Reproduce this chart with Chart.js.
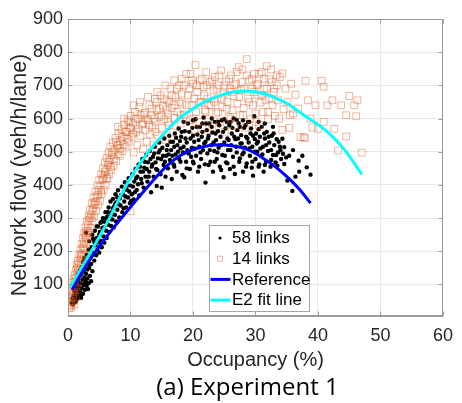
<!DOCTYPE html>
<html lang="en">
<head>
<meta charset="UTF-8">
<title>(a) Experiment 1</title>
<style>
  html, body { margin: 0; padding: 0; background: #fff; }
  #wrap { width: 462px; height: 403px; }
</style>
<script src="https://cdn.jsdelivr.net/npm/chart.js"></script>
</head>
<body>
<div id="wrap"><canvas id="chart" width="462" height="403"></canvas></div>
<script>
// axis ticks
const xTicks = [0, 10, 20, 30, 40, 50, 60];
const yTicks = [100, 200, 300, 400, 500, 600, 700, 800, 900];

// 58 links: [occupancy %, flow veh/h/lane]
const links58 = [
  [0.6,45],[0.7,58],[0.8,40],[0.9,66],[1.0,52],[1.0,80],[1.1,61],[1.2,92],[1.2,48],[1.3,73],
  [1.4,101],[1.5,57],[1.5,86],[1.6,112],[1.7,68],[1.7,95],[1.8,124],[1.9,79],[1.9,142],[2.0,104],
  [2.1,60],[2.1,131],[2.2,88],[2.2,152],[2.3,115],[2.4,72],[2.4,168],[2.5,98],[2.5,139],[2.6,121],
  [2.6,180],[2.7,84],[2.8,110],[2.8,158],[2.9,132],[2.9,256],[3.0,96],[3.0,190],[3.1,145],[3.1,118],
  [3.2,172],[3.3,104],[3.3,205],[3.4,150],[3.5,126],[3.6,185],[3.7,162],[3.8,212],[3.9,140],[4.0,238],
  [0.9,88],[1.3,52],[1.6,130],[2.0,70],[2.3,140],[2.6,102],[2.9,170],[3.2,86],[3.5,160],[3.7,110],
  [4.1,195],[4.2,172],[4.3,262],[4.4,218],[4.5,188],[4.6,240],[4.7,205],[4.8,275],[4.9,228],[5.0,196],
  [5.1,258],[5.2,286],[5.3,232],[5.4,212],[5.5,270],[5.6,300],[5.7,245],[5.8,226],[5.9,288],[6.0,318],
  [6.1,262],[6.2,240],[6.3,305],[6.4,280],[6.5,332],[6.6,258],[6.7,298],[6.8,350],[6.9,276],[7.0,318],
  [7.1,296],[7.2,358],[7.3,272],[7.4,336],[7.5,310],[7.6,372],[7.7,290],[7.8,348],[7.9,325],[8.0,384],
  [3.4,230],[3.9,250],[4.2,228],[4.6,275],[5.0,250],[5.4,290],[5.7,272],[6.1,300],[6.4,318],[6.9,310],
  [7.2,330],[7.6,345],[7.9,362],
  [8.2,302],[8.3,360],[8.4,338],[8.6,395],[8.7,318],[8.8,372],[9.0,350],[9.1,408],[9.3,332],[9.4,385],
  [9.6,362],[9.7,420],[9.9,345],[10.0,398],
  [8.1,342],[8.5,370],[8.9,330],[9.2,365],[9.5,398],[9.8,380],[10.1,352],[10.4,395],[10.7,378],[10.9,420],
  [11.2,402],[11.5,455],[11.7,418],[12.0,440],[12.3,470],[12.6,448],[12.9,425],[13.2,478],[13.5,462],[13.8,495],
  [14.1,448],[14.4,480],[14.7,505],[15.2,488],[15.5,470],[15.8,505],[16.1,492],
  [10.2,372],[10.3,432],[10.5,356],[10.6,410],[10.8,448],[11.0,385],[11.1,425],[11.3,462],[11.4,368],[11.6,440],
  [11.8,405],[11.9,478],[12.1,392],[12.2,452],[12.4,425],[12.5,490],[12.7,410],[12.8,468],[13.0,440],[13.1,502],
  [13.3,378],[13.4,455],[13.6,485],[13.7,425],[13.9,515],[14.0,468],[14.2,397],[14.3,445],[14.5,498],[14.6,528],
  [14.8,432],[14.9,478],[15.0,392],[15.1,512],[15.3,460],[15.4,540],[15.6,425],[15.7,488],[15.9,520],[16.0,450],
  [16.2,548],[16.3,475],[16.5,505],[16.6,418],[16.8,530],[16.9,462],[17.1,555],[17.2,492],[17.4,440],[17.5,520],
  [17.7,570],[17.8,478],[18.0,510],[18.1,545],[18.3,430],[18.4,498],[18.6,423],[18.7,562],[18.9,470],[19.0,528],
  [19.2,585],[19.3,495],[19.5,448],[19.6,540],[19.8,512],[19.9,572],[20.1,465],[20.2,530],[20.4,598],[20.5,488],
  [20.7,552],[20.8,440],[21.0,515],[21.1,575],[21.3,478],[21.4,545],[21.6,505],[21.7,603],[21.9,462],[22.0,530],
  [22.0,407],[22.2,565],
  [16.4,530],[16.7,488],[17.0,515],[17.3,542],[17.6,500],[17.9,532],[18.2,560],[18.5,515],[18.8,540],[19.1,505],
  [19.4,560],[19.7,485],[20.0,548],[20.3,510],[20.6,575],[20.9,535],[21.2,498],[21.5,560],[21.8,525],[22.1,585],
  [22.4,540],[22.7,505],[23.0,575],[23.3,528],[23.6,555],[23.9,498],[24.2,580],[24.5,520],[24.8,560],[25.1,488],
  [25.4,590],[25.7,535],[26.0,505],[26.3,572],[26.6,545],[26.9,515],[27.2,540],[27.5,575],[27.8,525],[28.1,498],
  [28.4,580],[28.7,540],[29.0,510],[29.3,570],[29.6,548],[29.9,500],[30.2,525],[30.5,568],[30.8,510],[31.1,492],
  [31.4,555],[31.7,520],[32.1,545],[32.5,505],[32.9,555],[33.3,490],[33.7,530],[34.0,505],
  [17.0,455],[18.0,470],[19.0,450],[20.0,470],[21.0,455],[22.5,460],[23.5,470],[24.5,445],[25.5,465],[26.5,455],
  [27.5,480],[28.5,455],[29.5,470],[30.5,455],[31.5,460],[32.5,475],[33.5,458],
  [18.5,590],[20.0,595],[21.5,585],[23.0,600],[24.0,590],[25.0,598],[26.0,590],[27.0,596],[28.0,595],[29.0,590],
  [30.5,590],[31.5,585],[32.8,575],
  [22.3,495],[22.5,548],[22.6,585],[22.8,470],[22.9,520],[23.1,558],[23.2,440],[23.4,502],[23.5,590],[23.7,535],
  [23.8,478],[24.0,562],[24.1,512],[24.3,455],[24.4,545],[24.6,595],[24.7,490],[24.9,423],[25.0,528],[25.2,570],
  [25.3,468],[25.5,540],[25.6,505],[25.8,580],[25.9,448],[26.1,520],[26.2,555],[26.4,485],[26.5,600],[26.7,433],
  [26.8,538],[27.0,498],[27.1,565],[27.3,586],[27.4,470],[27.6,525],[27.7,550],[27.9,492],[28.0,440],[28.2,572],
  [28.3,512],[28.5,545],[28.6,465],[28.8,590],[28.9,528],[29.1,488],[29.2,555],[29.4,452],[29.5,515],[29.6,428],
  [29.8,607],[29.9,538],[30.0,478],
  [30.1,555],[30.3,500],[30.4,530],[30.6,462],[30.7,545],[30.9,488],[31.0,575],[31.2,515],[31.3,440],[31.5,540],
  [31.7,470],[31.8,560],[32.0,502],[32.2,528],[32.4,455],[32.6,548],[32.8,490],[33.0,520],[33.2,468],[33.4,538],
  [33.6,498],[33.9,515],[34.1,478],[34.3,539],[34.4,494],[34.6,514],[34.6,463],[34.9,483],[35.1,413],[35.4,488],
  [35.9,382],[36.4,425],[36.9,473],[37.5,488],[38.2,453],[38.8,431],[36.0,505],[37.0,440]
];

// 14 links
const links14 = [
  [0.2,30],[0.2,48],[0.3,38],[0.3,62],[0.4,28],[0.4,75],[0.5,45],[0.5,90],[0.6,35],[0.6,58],
  [0.7,82],[0.7,105],[0.8,50],[0.8,68],[0.9,95],[0.9,118],[1.0,40],[1.0,78],[1.1,108],[1.1,130],
  [1.2,62],[1.2,92],[1.3,120],[1.3,145],[1.4,85],[1.4,160],[1.5,110],[1.5,135],
  [1.6,150],[1.6,172],[1.7,128],[1.8,165],[1.8,190],[1.9,145],[2.0,178],[2.0,205],[2.1,160],[2.2,192],
  [2.2,222],[2.3,175],[2.4,210],[2.4,240],[2.5,190],[2.6,228],[2.6,255],[2.7,205],[2.8,245],[2.8,272],
  [2.9,222],[3.0,262],[3.0,290],[3.1,238],[3.2,280],[3.3,305],[3.3,255],[3.4,295],[3.5,325],[3.6,270],
  [3.7,312],[3.8,345],[3.9,290],[4.0,330],[4.1,362],[4.2,305],[4.3,348],[4.4,380],[4.5,322],[4.6,365],
  [4.7,398],[4.8,340],[4.9,385],[5.0,415],
  [1.7,145],[2.1,185],[2.5,215],[2.9,250],[3.2,260],[3.6,300],[3.9,320],[4.2,340],[4.5,350],[4.8,370],
  [5.1,352],[5.2,398],[5.3,432],[5.4,372],[5.5,415],[5.6,450],[5.7,385],[5.8,428],[5.9,468],[6.0,400],
  [6.1,445],[6.2,482],[6.3,418],[6.4,460],[6.5,498],[6.6,432],[6.7,475],[6.8,515],[6.9,445],[7.0,490],
  [7.2,528],[7.3,458],[7.4,505],[7.6,542],[7.7,472],[7.9,518],[8.0,493],[8.1,556],[8.3,488],[8.4,532],
  [8.6,568],[8.7,502],[8.9,545],[9.0,582],[9.2,515],[9.4,560],[9.6,595],[9.7,530],[9.9,572],[10.0,321],
  [10.0,608],
  [5.3,380],[5.6,420],[5.9,440],[6.2,420],[6.5,470],[6.8,455],[7.1,500],[7.4,478],[7.7,530],[8.0,520],
  [8.3,510],[8.6,545],[8.9,520],[9.2,560],[9.5,540],[9.8,590],[10.1,570],[10.4,555],[10.8,600],[11.2,570],
  [11.6,610],[12.0,585],
  [8.0,575],[9.0,600],[10.5,640],[11.5,650],[12.8,665],[14.3,680],[15.6,700],[17.0,715],[18.2,720],[19.6,735],
  [10.2,545],[10.4,585],[10.5,498],[10.7,620],[10.9,560],[11.1,520],[11.2,598],[11.4,635],[11.6,548],[11.8,582],
  [12.0,508],[12.1,612],[12.3,617],[12.4,565],[12.6,530],[12.8,595],[13.0,640],[13.1,552],[13.3,610],[13.5,575],
  [13.7,520],[13.9,659],[14.0,590],[14.2,625],[14.4,548],[14.6,605],[14.8,670],[15.0,572],[15.2,638],[15.4,598],
  [15.6,535],[15.8,655],[16.0,615],[16.2,580],[16.4,690],[16.6,632],[16.8,558],[17.0,602],[17.2,665],[17.5,620],
  [17.8,700],[18.0,585],[18.3,645],[18.6,612],[18.9,734],[19.2,670],[19.5,595],[19.8,640],[20.0,705],
  [12.5,600],[13.0,580],[13.4,630],[13.8,600],[14.2,650],[14.6,630],[15.0,610],[15.4,660],[15.8,625],[16.2,650],
  [16.6,670],[17.0,640],[17.4,690],[17.8,650],[18.2,675],[18.6,700],[19.0,640],[19.4,690],[19.8,715],[20.2,660],
  [20.6,700],[21.0,650],[21.4,720],[21.8,670],[22.2,700],[22.6,640],[23.0,715],[23.4,650],[23.8,690],[24.2,730],
  [24.6,660],[25.0,700],[25.4,630],[25.8,720],[26.2,680],[26.6,700],[27.0,740],[27.4,665],[27.8,710],[28.2,690],
  [28.6,730],[29.0,650],[29.4,720],[29.8,680],[30.2,700],[30.6,735],[31.0,670],[31.4,720],[31.8,690],[32.2,660],
  [32.6,710],[33.0,690],[33.4,730],
  [14.0,560],[16.0,590],[18.0,610],[20.0,600],[22.0,620],[24.0,620],[26.0,600],[28.0,610],[30.0,590],[32.0,620],
  [33.8,600],[35.5,610],
  [20.2,565],[20.4,761],[20.5,620],[20.7,680],[20.9,590],[21.1,715],[21.3,648],[21.5,570],[21.7,695],[21.9,625],
  [22.1,740],[22.3,660],[22.5,598],[22.7,710],[22.9,640],[23.1,575],[23.3,685],[23.5,725],[23.7,615],[23.9,660],
  [24.1,700],[24.3,588],[24.5,745],[24.7,635],[24.9,675],[25.1,560],[25.3,712],[25.5,650],[25.7,605],[25.9,690],
  [26.1,730],[26.3,625],[26.5,668],[26.7,580],[26.9,705],[27.1,645],[27.3,755],[27.5,610],[27.7,685],[27.9,748],
  [28.1,632],[28.3,572],[28.6,779],[28.8,660],[29.0,715],[29.2,598],[29.4,690],[29.6,640],[29.8,735],[30.0,615],
  [30.2,672],[30.4,705],[30.6,580],[30.8,648],[31.0,740],[31.2,620],[31.4,690],[31.6,655],[31.8,758],[32.0,598],
  [32.2,718],[32.5,748],[32.7,640],[32.9,680],[33.1,608],[33.4,700],[33.6,655],[33.9,725],[34.3,566],[34.3,736],
  [34.5,628],[34.8,690],[35.1,650],[35.4,572],[35.7,705],[36.0,615],[36.4,672],[36.8,630],[37.2,544],[37.7,544],
  [37.9,541],[38.0,714],[38.4,655],[38.8,600],[39.1,573],[39.6,640],[40.0,569],[40.6,714],[40.9,696],[40.9,590],
  [41.5,640],[42.3,655],[42.6,569],[43.2,504],[43.7,640],[44.5,546],[44.5,610],[45.0,668],[45.8,640],[46.1,607],
  [46.3,655],[47.0,497]
];

// fitted curves, points
const refLine = [
  [0.7,85],[2.6,148],[5.2,220],[7.9,285],[10.5,345],[13.0,400],[15.7,455],[18.1,490],[21.0,512],
  [24.1,521],[27.0,516],[28.6,508],[30.1,494],[31.4,478],[33.5,450],[35.4,418],[37.2,383],[38.8,345]
];
const e2Line = [
  [0.4,92],[3.1,180],[6.3,288],[9.5,405],[12.8,498],[14.4,534],[17.6,598],[19.2,620],[22.3,655],
  [24.4,670],[26.3,679],[28.3,683],[30.3,679],[32.2,670],[33.3,661],[35.0,646],[37.6,612],
  [41.5,560],[44.3,505],[47.0,432]
];

const yTitle = 'Network flow (veh/h/lane)';
const caption = '(a) Experiment 1';

const toXY = arr => arr.map(p => ({x: p[0], y: p[1]}));
const axisGray = '#9a9a9a';
const textGray = '#262626';

Chart.defaults.font.family = '"Liberation Sans", Arial, sans-serif';

// box round the axes with inward ticks, like the original
const frame = {
  id: 'frame',
  afterDatasetsDraw(chart) {
    const {ctx, chartArea: a, scales} = chart;
    ctx.save();
    ctx.strokeStyle = axisGray;
    ctx.lineWidth = 1;
    const l = Math.round(a.left) + 0.5, r = Math.round(a.right) - 0.5;
    const t = Math.round(a.top) + 0.5, b = Math.round(a.bottom) - 0.5;
    ctx.strokeRect(l, t, r - l, b - t);
    ctx.beginPath();
    xTicks.forEach(v => {
      const px = Math.round(scales.x.getPixelForValue(v)) + 0.5;
      ctx.moveTo(px, b); ctx.lineTo(px, b - 4);
      ctx.moveTo(px, t); ctx.lineTo(px, t + 4);
    });
    yTicks.forEach(v => {
      const py = Math.round(scales.y.getPixelForValue(v)) + 0.5;
      ctx.moveTo(l, py); ctx.lineTo(l + 4, py);
      ctx.moveTo(r, py); ctx.lineTo(r - 4, py);
    });
    ctx.stroke();
    ctx.restore();
  }
};

// y title and caption, placed where the original has them
const labels = {
  id: 'labels',
  afterDraw(chart) {
    const ctx = chart.ctx;
    ctx.save();
    ctx.fillStyle = textGray;
    ctx.font = '21.5px "Liberation Sans", Arial, sans-serif';
    ctx.textAlign = 'center';
    ctx.textBaseline = 'middle';
    ctx.translate(20, 175);
    ctx.rotate(-Math.PI / 2);
    ctx.fillText(yTitle, 0, 0);
    ctx.restore();

    ctx.save();
    ctx.fillStyle = '#000';
    ctx.font = '24px "Open Sans", "Noto Sans", sans-serif';
    ctx.textAlign = 'center';
    ctx.textBaseline = 'middle';
    ctx.fillText(caption, 247.5, 388);
    ctx.restore();
  }
};

// legend inside the plot
const legendBox = {
  id: 'legendBox',
  afterDraw(chart) {
    const ctx = chart.ctx;
    const x0 = 209.5, y0 = 225.5, w = 100, h = 86, row = 20.7;
    ctx.save();
    ctx.fillStyle = '#fff';
    ctx.fillRect(x0, y0, w, h);
    ctx.strokeStyle = '#a6a6a6';
    ctx.lineWidth = 1;
    ctx.strokeRect(x0, y0, w, h);
    ctx.font = '17px "Liberation Sans", Arial, sans-serif';
    ctx.textBaseline = 'middle';
    chart.data.datasets.forEach((d, i) => {
      const cy = y0 + 12.5 + i * row;
      if (d.showLine) {
        ctx.strokeStyle = d.borderColor;
        ctx.lineWidth = 3;
        ctx.beginPath();
        ctx.moveTo(x0 + 1, cy);
        ctx.lineTo(x0 + 21, cy);
        ctx.stroke();
      } else if (d.pointStyle === 'rect') {
        ctx.strokeStyle = d.borderColor;
        ctx.lineWidth = 1;
        ctx.strokeRect(x0 + 8, cy - 2.5, 5, 5);
      } else {
        ctx.fillStyle = '#000';
        ctx.beginPath();
        ctx.arc(x0 + 10.5, cy, 1.6, 0, Math.PI * 2);
        ctx.fill();
      }
      ctx.fillStyle = '#000';
      ctx.fillText(d.label, x0 + 22.5, cy + 0.5);
    });
    ctx.restore();
  }
};

new Chart(document.getElementById('chart'), {
  type: 'scatter',
  data: {
    datasets: [
      {
        label: '58 links',
        data: toXY(links58),
        pointStyle: 'circle',
        pointRadius: 2.2,
        backgroundColor: '#000',
        borderColor: '#000',
        borderWidth: 0,
        order: 2
      },
      {
        label: '14 links',
        data: toXY(links14),
        pointStyle: 'rect',
        pointRadius: 4.8,
        backgroundColor: 'rgba(0,0,0,0)',
        borderColor: 'rgba(217,83,25,0.42)',
        borderWidth: 1,
        order: 1
      },
      {
        label: 'Reference',
        data: toXY(refLine),
        showLine: true,
        pointRadius: 0,
        borderColor: '#0000ff',
        borderWidth: 3,
        cubicInterpolationMode: 'monotone',
        order: 0
      },
      {
        label: 'E2 fit line',
        data: toXY(e2Line),
        showLine: true,
        pointRadius: 0,
        borderColor: '#00ffff',
        borderWidth: 3,
        cubicInterpolationMode: 'monotone',
        order: 0
      }
    ]
  },
  options: {
    responsive: false,
    animation: false,
    devicePixelRatio: 1,
    layout: { padding: { top: 19, right: 12, left: 0, bottom: 33.8 } },
    scales: {
      x: {
        type: 'linear',
        min: 0,
        max: 60,
        afterBuildTicks: s => { s.ticks = xTicks.map(v => ({value: v})); },
        afterFit: s => { s.height = 53.2; },
        ticks: { font: { size: 18 }, color: textGray, padding: 9 },
        grid: { color: '#e9e9e9', drawTicks: false },
        border: { color: axisGray },
        title: {
          display: true,
          text: 'Occupancy (%)',
          font: { size: 20 },
          color: textGray,
          padding: { top: 0, bottom: -3 }
        }
      },
      y: {
        type: 'linear',
        min: 5,
        max: 900,
        afterBuildTicks: s => { s.ticks = yTicks.map(v => ({value: v})); },
        afterFit: s => { s.width = 68; },
        ticks: { font: { size: 18 }, color: textGray, padding: 5 },
        grid: { color: '#e9e9e9', drawTicks: false },
        border: { color: axisGray },
        title: { display: false }
      }
    },
    plugins: {
      legend: { display: false },
      tooltip: { enabled: false },
      title: { display: false }
    }
  },
  plugins: [frame, labels, legendBox]
});
</script>
</body>
</html>
